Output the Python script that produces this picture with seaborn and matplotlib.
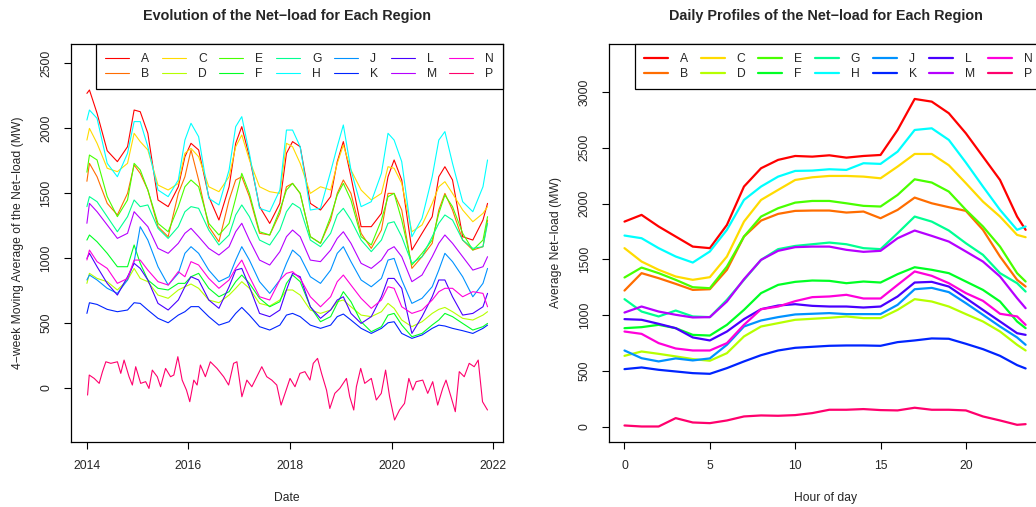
import numpy as np
import pandas as pd
import matplotlib
matplotlib.use('Agg')
import matplotlib.pyplot as plt
import seaborn as sns

sns.set_theme(style='ticks')
plt.rcParams['font.family'] = ['Liberation Sans', 'DejaVu Sans']
plt.rcParams['axes.unicode_minus'] = True

# ==========================================
# data
# ==========================================
regions = ['A', 'B', 'C', 'D', 'E', 'F', 'G', 'H', 'J', 'K', 'L', 'M', 'N', 'P']
colors = ['#FF0000', '#FF6D00', '#FFDB00', '#B6FF00', '#49FF00', '#00FF24', '#00FF92',
          '#00FFFF', '#0092FF', '#0024FF', '#4900FF', '#B600FF', '#FF00DB', '#FF006D']

# 4-week moving average, sampled dates (decimal years)
years = [2014.0, 2014.05, 2014.2, 2014.4, 2014.6, 2014.8, 2014.93,
         2015.05, 2015.2, 2015.4, 2015.6, 2015.8, 2015.93,
         2016.05, 2016.2, 2016.4, 2016.6, 2016.8, 2016.93,
         2017.05, 2017.2, 2017.4, 2017.6, 2017.8, 2017.93,
         2018.05, 2018.2, 2018.4, 2018.6, 2018.8, 2018.93,
         2019.05, 2019.2, 2019.4, 2019.6, 2019.8, 2019.93,
         2020.05, 2020.2, 2020.4, 2020.6, 2020.8, 2020.93,
         2021.05, 2021.2, 2021.4, 2021.6, 2021.8, 2021.89]

ma_A = [2266, 2292, 2113, 1825, 1741, 1856, 2138, 2125, 1959, 1446, 1395, 1548, 1779,
        1882, 1831, 1472, 1292, 1548, 1882, 2010, 1779, 1395, 1266, 1420, 1805,
        1895, 1856, 1420, 1369, 1472, 1741, 1895, 1625, 1241, 1241, 1343, 1625,
        1754, 1600, 1061, 1190, 1318, 1625, 1702, 1600, 1164, 1138, 1292, 1420]
ma_B = [1590, 1728, 1625, 1420, 1331, 1497, 1715, 1651, 1523, 1241, 1164, 1497, 1625,
        1831, 1600, 1241, 1125, 1446, 1600, 1625, 1472, 1190, 1177, 1343, 1548,
        1574, 1497, 1164, 1113, 1292, 1497, 1600, 1497, 1190, 1074, 1215, 1497,
        1497, 1369, 920, 1010, 1113, 1369, 1497, 1369, 1138, 1061, 1087, 1292]
ma_C = [1907, 1997, 1882, 1690, 1664, 1728, 1959, 1895, 1831, 1561, 1523, 1574, 1805,
        1843, 1779, 1548, 1510, 1625, 1856, 1946, 1754, 1548, 1510, 1497, 1882,
        1856, 1728, 1497, 1548, 1523, 1728, 1869, 1677, 1523, 1446, 1497, 1702,
        1690, 1574, 1202, 1254, 1420, 1548, 1587, 1497, 1369, 1279, 1343, 1395]
ma_D = [805, 882, 843, 818, 754, 831, 920, 843, 818, 715, 690, 754, 779,
        800, 767, 677, 656, 715, 767, 818, 767, 651, 631, 677, 754,
        754, 715, 600, 574, 600, 664, 677, 625, 561, 549, 587, 651,
        613, 523, 472, 510, 574, 605, 620, 587, 536, 523, 561, 587]
ma_E = [1660, 1792, 1754, 1472, 1318, 1446, 1728, 1677, 1523, 1266, 1202, 1395, 1548,
        1600, 1548, 1266, 1177, 1266, 1459, 1651, 1497, 1202, 1177, 1369, 1523,
        1574, 1497, 1164, 1113, 1318, 1484, 1574, 1446, 1164, 1100, 1292, 1472,
        1497, 1292, 946, 1036, 1138, 1343, 1484, 1395, 1190, 1061, 1138, 1318]
ma_F = [1138, 1177, 1125, 1036, 933, 933, 1100, 959, 831, 767, 754, 805, 805,
        856, 882, 767, 702, 741, 818, 869, 805, 690, 625, 664, 805,
        869, 818, 625, 510, 549, 651, 741, 664, 510, 433, 472, 561,
        574, 485, 395, 420, 485, 523, 574, 549, 497, 446, 472, 497]
ma_G = [1395, 1472, 1433, 1318, 1202, 1318, 1446, 1395, 1408, 1228, 1151, 1241, 1356,
        1395, 1382, 1215, 1100, 1177, 1331, 1408, 1318, 1138, 1100, 1215, 1356,
        1420, 1382, 1138, 1087, 1190, 1331, 1382, 1292, 1138, 1049, 1138, 1267,
        1279, 1164, 959, 1010, 1164, 1267, 1331, 1292, 1138, 1074, 1087, 1267]
ma_H = [2061, 2138, 2074, 1728, 1625, 1805, 2049, 2049, 1856, 1523, 1472, 1600, 1907,
        2036, 1933, 1459, 1408, 1677, 2010, 2087, 1805, 1382, 1356, 1523, 1984,
        1984, 1856, 1369, 1382, 1664, 1856, 2023, 1677, 1395, 1433, 1651, 1959,
        1907, 1741, 1164, 1305, 1625, 1907, 1972, 1728, 1433, 1356, 1548, 1754]
ma_J = [831, 869, 831, 767, 728, 831, 972, 1241, 1138, 933, 792, 882, 1036,
        1087, 1036, 907, 818, 856, 984, 1087, 984, 818, 728, 831, 959,
        1061, 1010, 856, 805, 907, 1036, 1087, 972, 831, 779, 843, 984,
        997, 831, 651, 690, 779, 907, 1036, 972, 856, 702, 805, 920]
ma_K = [574, 656, 643, 605, 587, 600, 656, 651, 600, 536, 502, 561, 587,
        626, 626, 549, 484, 510, 574, 620, 561, 472, 446, 484, 561,
        574, 549, 484, 459, 484, 549, 569, 523, 459, 420, 459, 502,
        510, 420, 382, 408, 459, 484, 477, 459, 441, 420, 459, 484]
ma_L = [997, 1036, 933, 805, 715, 856, 959, 920, 831, 651, 600, 677, 779,
        856, 831, 677, 613, 779, 907, 920, 779, 574, 549, 600, 754,
        882, 856, 625, 536, 600, 677, 702, 574, 497, 549, 702, 843,
        843, 767, 420, 549, 702, 831, 831, 702, 561, 574, 625, 728]
ma_M = [1267, 1420, 1356, 1254, 1151, 1190, 1356, 1305, 1241, 1074, 1036, 1113, 1190,
        1228, 1164, 1074, 1023, 1087, 1202, 1267, 1138, 984, 946, 1049, 1164,
        1215, 1164, 984, 972, 1061, 1151, 1202, 1113, 959, 920, 984, 1061,
        1087, 1010, 818, 869, 1010, 1113, 1177, 1113, 1010, 907, 933, 1010]
ma_N = [985, 1061, 972, 920, 805, 843, 984, 984, 907, 818, 792, 895, 856,
        972, 946, 843, 767, 831, 920, 984, 856, 702, 677, 831, 882,
        895, 843, 702, 625, 702, 818, 869, 792, 690, 613, 677, 779,
        767, 625, 574, 600, 677, 741, 767, 767, 702, 741, 728, 625]

# region P is much noisier, so it has its own dates
years_P = [2014.013, 2014.046, 2014.144, 2014.242, 2014.307, 2014.373, 2014.471, 2014.601,
           2014.667, 2014.732, 2014.830, 2014.895, 2014.961, 2015.059, 2015.157, 2015.222,
           2015.288, 2015.386, 2015.451, 2015.549, 2015.647, 2015.712, 2015.791, 2015.876,
           2015.961, 2016.026, 2016.105, 2016.170, 2016.235, 2016.333, 2016.431, 2016.562,
           2016.693, 2016.791, 2016.889, 2016.954, 2017.052, 2017.150, 2017.248, 2017.346,
           2017.444, 2017.542, 2017.641, 2017.739, 2017.824, 2017.902, 2018.000, 2018.098,
           2018.196, 2018.294, 2018.392, 2018.458, 2018.542, 2018.621, 2018.719, 2018.784,
           2018.882, 2018.980, 2019.111, 2019.176, 2019.255, 2019.307, 2019.392, 2019.471,
           2019.601, 2019.699, 2019.797, 2019.882, 2019.961, 2020.059, 2020.157, 2020.255,
           2020.340, 2020.418, 2020.484, 2020.614, 2020.712, 2020.810, 2020.908, 2021.007,
           2021.072, 2021.170, 2021.255, 2021.333, 2021.431, 2021.529, 2021.627, 2021.706,
           2021.791, 2021.889]
ma_P = [-54, 100, 74, 36, 126, 202, 190, 202, 113, 215,
        87, 23, 164, 36, 49, -3, 138, 87, 10, 151,
        87, 100, 241, 61, -16, -105, 61, 23, 177, 87,
        202, 151, 87, 23, 190, 202, -67, 61, 10, 87,
        164, 87, 61, 23, -131, -41, 74, 10, 113, 126,
        61, 190, 228, 113, -16, -157, -41, -3, 74, -67,
        -169, 10, 151, 36, 74, -92, -41, 138, -67, -246,
        -169, -118, 74, -16, 49, 61, -41, 49, -131, -3,
        61, -67, -182, 126, 87, 190, 164, 215, -105, -169]

# daily profiles (hour of day)
hours = [0, 1, 2, 3, 4, 5, 6, 7, 8, 9, 10, 11, 12, 13, 14, 15, 16, 17, 18, 19, 20, 21, 22, 23, 23.5]

day_A = [1838, 1898, 1794, 1704, 1614, 1600, 1808, 2152, 2316, 2391, 2426, 2420, 2432,
         2411, 2426, 2435, 2659, 2937, 2913, 2809, 2629, 2420, 2211, 1883, 1764]
day_B = [1220, 1376, 1331, 1280, 1226, 1232, 1406, 1704, 1847, 1907, 1934, 1937, 1937,
         1919, 1928, 1868, 1943, 2053, 2002, 1967, 1934, 1764, 1525, 1316, 1256]
day_C = [1600, 1480, 1406, 1346, 1316, 1340, 1525, 1838, 2032, 2122, 2211, 2235, 2247,
         2247, 2241, 2226, 2331, 2444, 2444, 2343, 2182, 2017, 1883, 1719, 1698]
day_D = [635, 674, 653, 630, 606, 591, 659, 809, 898, 928, 958, 967, 976,
         988, 973, 973, 1047, 1143, 1122, 1077, 1009, 943, 853, 734, 683]
day_E = [1337, 1426, 1376, 1316, 1250, 1241, 1435, 1704, 1883, 1958, 2008, 2023, 2023,
         2002, 1979, 1973, 2077, 2217, 2188, 2107, 1943, 1794, 1614, 1376, 1301]
day_F = [883, 892, 913, 883, 823, 817, 913, 1047, 1197, 1271, 1298, 1310, 1307,
         1286, 1301, 1292, 1367, 1429, 1406, 1376, 1301, 1226, 1122, 943, 883]
day_G = [1143, 1032, 988, 1041, 988, 982, 1137, 1316, 1495, 1591, 1620, 1635, 1650,
         1635, 1600, 1591, 1734, 1883, 1838, 1758, 1644, 1540, 1376, 1286, 1211]
day_H = [1713, 1689, 1600, 1525, 1471, 1570, 1764, 2032, 2152, 2241, 2292, 2295, 2307,
         2301, 2361, 2355, 2465, 2659, 2674, 2570, 2367, 2152, 1943, 1764, 1794]
day_J = [683, 614, 585, 612, 594, 612, 734, 898, 952, 982, 1006, 1012, 1018,
         1009, 1009, 1009, 1092, 1232, 1244, 1206, 1107, 1003, 898, 800, 734]
day_K = [516, 531, 510, 495, 480, 474, 525, 585, 641, 683, 707, 716, 725,
         728, 728, 725, 758, 773, 791, 788, 743, 695, 635, 552, 522]
day_L = [964, 958, 922, 883, 800, 773, 853, 964, 1053, 1086, 1098, 1083, 1077,
         1077, 1068, 1077, 1167, 1292, 1298, 1256, 1152, 1047, 943, 838, 823]
day_M = [1023, 1077, 1032, 1003, 979, 982, 1122, 1322, 1495, 1576, 1609, 1614, 1614,
         1585, 1567, 1576, 1689, 1758, 1710, 1659, 1570, 1480, 1346, 1152, 1062]
day_N = [853, 832, 749, 701, 683, 683, 749, 913, 1053, 1077, 1125, 1161, 1167,
         1182, 1149, 1149, 1271, 1391, 1352, 1286, 1197, 1128, 1012, 988, 913]
day_P = [11, 2, 2, 77, 38, 32, 56, 92, 101, 98, 104, 122, 152,
         152, 158, 149, 146, 170, 152, 152, 146, 92, 56, 17, 23]

ma_series = [ma_A, ma_B, ma_C, ma_D, ma_E, ma_F, ma_G, ma_H, ma_J, ma_K, ma_L, ma_M, ma_N]
day_series = [day_A, day_B, day_C, day_D, day_E, day_F, day_G, day_H, day_J, day_K,
              day_L, day_M, day_N, day_P]

# long-form tables
frames = []
for reg, vals in zip(regions[:-1], ma_series):
    frames.append(pd.DataFrame({'year': years, 'load': vals, 'region': reg}))
frames.append(pd.DataFrame({'year': years_P, 'load': ma_P, 'region': 'P'}))
df_ma = pd.concat(frames, ignore_index=True)

df_day = pd.concat([pd.DataFrame({'hour': hours, 'load': v, 'region': r})
                    for r, v in zip(regions, day_series)], ignore_index=True)

pal = dict(zip(regions, colors))

# ==========================================
# figure
# ==========================================
fs = 8.7
fig = plt.figure(figsize=(10.36, 5.07), dpi=100)
ax1 = fig.add_axes([0.0682, 0.1282, 0.4176, 0.7856])
ax2 = fig.add_axes([0.5878, 0.1282, 0.4180, 0.7856])

sns.lineplot(data=df_ma, x='year', y='load', hue='region', hue_order=regions,
             palette=pal, linewidth=0.8, estimator=None, ax=ax1)
sns.lineplot(data=df_day, x='hour', y='load', hue='region', hue_order=regions,
             palette=pal, linewidth=1.6, estimator=None, ax=ax2)

ax1.set_xlim(2013.68, 2022.2)
ax1.set_ylim(-415, 2648)
ax1.set_xticks([2014, 2016, 2018, 2020, 2022])
ax1.set_yticks([0, 500, 1000, 1500, 2000, 2500])
ax1.set_title('Evolution of the Net\u2212load for Each Region', fontsize=10.4,
              fontweight='bold', pad=17)
ax1.set_xlabel('Date', fontsize=fs, labelpad=14)
ax1.set_ylabel('4\u2212week Moving Average of the Net\u2212load (MW)', fontsize=fs, labelpad=12)

ax2.set_xlim(-0.91, 24.46)
ax2.set_ylim(-137, 3432)
ax2.set_xticks([0, 5, 10, 15, 20])
ax2.set_yticks([0, 500, 1000, 1500, 2000, 2500, 3000])
ax2.set_title('Daily Profiles of the Net\u2212load for Each Region', fontsize=10.4,
              fontweight='bold', pad=17)
ax2.set_xlabel('Hour of day', fontsize=fs, labelpad=14)
ax2.set_ylabel('Average Net\u2212load (MW)', fontsize=fs, labelpad=12)

for ax, lw in [(ax1, 0.8), (ax2, 1.6)]:
    ax.grid(False)
    for s in ax.spines.values():
        s.set_color('black')
        s.set_linewidth(0.9)
    ax.tick_params(axis='both', direction='out', length=5, width=0.8, color='black',
                   labelsize=fs, pad=8)
    for lab in ax.get_yticklabels():
        lab.set_rotation(90)
        lab.set_va('center')
    handles, labels = ax.get_legend_handles_labels()
    leg = ax.legend(handles, labels, ncol=7, loc='upper right', bbox_to_anchor=(1, 1),
                    borderaxespad=0, frameon=True, fancybox=False, framealpha=1,
                    edgecolor='black', fontsize=fs, handlelength=2.0, handletextpad=1.0,
                    columnspacing=1.02, labelspacing=0.3, borderpad=0.75)
    leg.get_frame().set_linewidth(0.9)
    for h in leg.get_lines():
        h.set_linewidth(lw)

fig.savefig('out.png', dpi=100)
